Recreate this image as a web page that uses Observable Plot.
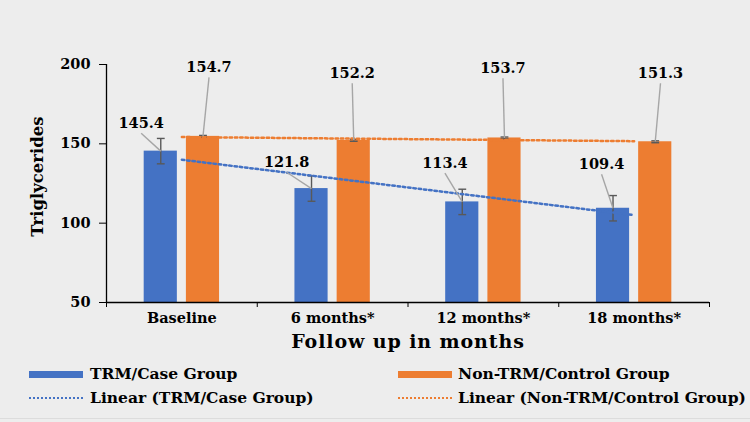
<!DOCTYPE html>
<html>
<head>
<meta charset="utf-8">
<script src="https://cdn.jsdelivr.net/npm/d3@7"></script>
<script src="https://cdn.jsdelivr.net/npm/@observablehq/plot@0.6"></script>
<style>
  html, body { margin: 0; padding: 0; background: #ededed; }
  #wrap { position: relative; width: 750px; height: 422px; overflow: hidden; background: #ededed;
          font-family: "DejaVu Serif", serif; font-weight: bold; color: #000; }
  #chart { position: absolute; left: 0; top: 0; }
  .leg { position: absolute; font-size: 15.5px; line-height: 1; white-space: nowrap; }
  .sw { position: absolute; }
  #bottomline { position: absolute; left: 0; top: 418px; width: 750px; height: 0; border-top: 1px solid #dcdcdc; }
</style>
</head>
<body>
<div id="wrap">
  <div id="chart"></div>
  <div id="legend"></div>
  <div id="bottomline"></div>
</div>
<script>
// ---- data ----
const categories = ["Baseline", "6 months*", "12 months*", "18 months*"];
const caseValues = [145.4, 121.8, 113.4, 109.4];
const controlValues = [154.7, 152.2, 153.7, 151.3];
const caseError = [8, 8, 8, 8];
const controlError = [0.6, 0.6, 0.6, 0.6];
const yTicks = [50, 100, 150, 200];
const seriesNames = ["TRM/Case Group", "Non-TRM/Control Group"];
const trendNames = ["Linear (TRM/Case Group)", "Linear (Non-TRM/Control Group)"];
const xTitle = "Follow up in months";
const yTitle = "Triglycerides";

// ---- annotation layout (label offsets from bar top, in axis units) ----
const caseLabelOffset = [[-0.13, 11.3], [-0.165, 10.3], [-0.115, 18.1], [-0.076, 21.4]];
const controlLabelOffset = [[0.04, 37.2], [-0.01, 36], [-0.01, 37.6], [0.035, 36.9]];

// ---- styles ----
const BLUE = "#4472C4", ORANGE = "#ED7D31";
const barOff = 0.14, barHalf = 0.11, capHalf = 0.026;

function rowsFor(values, errors, offsets, side) {
  return categories.map((c, i) => ({
    i, cat: c, value: values[i], err: errors[i],
    cx: i + side * barOff,
    lx: i + side * barOff + offsets[i][0],
    ly: values[i] + offsets[i][1]
  }));
}
const caseRows = rowsFor(caseValues, caseError, caseLabelOffset, -1);
const controlRows = rowsFor(controlValues, controlError, controlLabelOffset, 1);
const allRows = caseRows.concat(controlRows);

const chart = Plot.plot({
  width: 750, height: 360,
  marginTop: 64, marginBottom: 58, marginLeft: 106, marginRight: 41,
  style: { background: "transparent", fontFamily: "DejaVu Serif, serif", fontWeight: "bold", color: "#000", overflow: "visible" },
  x: { type: "linear", domain: [-0.5, 3.5] },
  y: { domain: [50, 200] },
  marks: [
    Plot.rectY(caseRows, { x1: d => d.cx - barHalf, x2: d => d.cx + barHalf, y1: 50, y2: "value", fill: BLUE }),
    Plot.rectY(controlRows, { x1: d => d.cx - barHalf, x2: d => d.cx + barHalf, y1: 50, y2: "value", fill: ORANGE }),
    // error bars
    Plot.link(allRows, { x1: "cx", x2: "cx", y1: d => d.value - d.err, y2: d => d.value + d.err, stroke: "#595959", strokeWidth: 1.4 }),
    Plot.link(allRows, { x1: d => d.cx - capHalf, x2: d => d.cx + capHalf, y1: d => d.value + d.err, y2: d => d.value + d.err, stroke: "#595959", strokeWidth: 1.4 }),
    Plot.link(allRows, { x1: d => d.cx - capHalf, x2: d => d.cx + capHalf, y1: d => d.value - d.err, y2: d => d.value - d.err, stroke: "#595959", strokeWidth: 1.4 }),
    // trend lines
    Plot.linearRegressionY(caseRows, { x: "i", y: "value", stroke: BLUE, strokeWidth: 2.5, strokeDasharray: "2.5,2.8", ci: 0 }),
    Plot.linearRegressionY(controlRows, { x: "i", y: "value", stroke: ORANGE, strokeWidth: 2.5, strokeDasharray: "2.5,2.8", ci: 0 }),
    // leader lines + value labels
    Plot.link(allRows, { x1: "cx", y1: "value", x2: "lx", y2: "ly", stroke: "#a6a6a6", strokeWidth: 1.4 }),
    Plot.text(allRows, { x: "lx", y: "ly", text: d => d.value.toFixed(1), dy: -10, fontSize: 14.5, fontWeight: "bold", fill: "#000" }),
    // axes
    Plot.ruleX([-0.5], { y1: 50, y2: 200, stroke: "#000", strokeWidth: 1.3 }),
    Plot.ruleY([50], { stroke: "#000", strokeWidth: 1.3 }),
    Plot.axisY({ ticks: yTicks, tickSize: 7, tickPadding: 9, fontSize: 14.5, label: null, stroke: "#000" }),
    Plot.axisX({ ticks: [-0.5, 0.5, 1.5, 2.5, 3.5], tickSize: 5, tickFormat: () => "", label: null, stroke: "#000" }),
    Plot.axisX({ ticks: [0, 1, 2, 3], tickSize: 0, tickPadding: 10, tickFormat: i => categories[i], fontSize: 14.5, label: null }),
    Plot.text([xTitle], { frameAnchor: "bottom", dy: 45, fontSize: 19, fontWeight: "bold", fill: "#000", className: "xtitle" }),
    Plot.text([yTitle], { frameAnchor: "left", textAnchor: "middle", rotate: -90, dx: -69, dy: -7, fontSize: 16.5, fontWeight: "bold", fill: "#000" })
  ]
});
d3.select(chart).selectAll(".xtitle text").attr("letter-spacing", "0.9px");
document.getElementById("chart").appendChild(chart);

// ---- legend ----
const legend = document.getElementById("legend");
const legendItems = [
  { name: seriesNames[0], color: BLUE, kind: "bar", x: 29, y: 374.5, tx: 90 },
  { name: seriesNames[1], color: ORANGE, kind: "bar", x: 398, y: 374.5, tx: 458 },
  { name: trendNames[0], color: BLUE, kind: "dot", x: 29, y: 398, tx: 90 },
  { name: trendNames[1], color: ORANGE, kind: "dot", x: 398, y: 398, tx: 458 }
];
for (const it of legendItems) {
  const sw = document.createElement("div");
  sw.className = "sw";
  sw.style.left = it.x + "px";
  sw.style.width = "54px";
  if (it.kind === "bar") {
    sw.style.top = (it.y - 3.5) + "px";
    sw.style.height = "7px";
    sw.style.background = it.color;
  } else {
    sw.style.top = (it.y - 1) + "px";
    sw.style.height = "0";
    sw.style.borderTop = "2px dotted " + it.color;
  }
  legend.appendChild(sw);
  const t = document.createElement("div");
  t.className = "leg";
  t.textContent = it.name;
  t.style.left = it.tx + "px";
  t.style.top = (it.y - 8.5) + "px";
  legend.appendChild(t);
}
</script>
</body>
</html>
